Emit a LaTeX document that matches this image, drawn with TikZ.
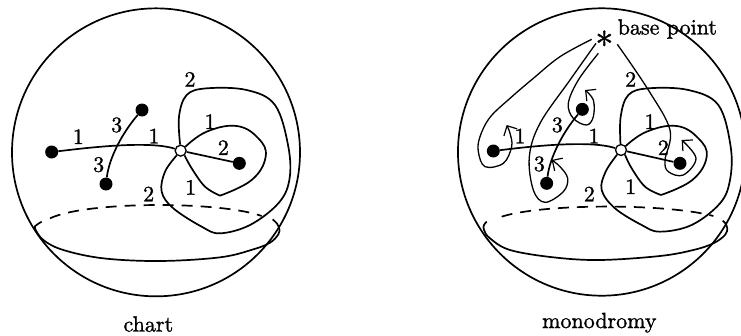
\documentclass[tikz,border=0pt]{standalone}
\usepackage{fontspec}
\newfontfamily\labfont[FakeBold=1.2]{lmroman10-regular.otf}
\usetikzlibrary{arrows.meta}
\tikzset{
  line/.style={line width=1.7pt,line join=round},
  thin line/.style={line width=1.3pt,line join=round},
  loop/.style={thin line,-{Straight Barb[length=7.5pt,width=15pt,line width=1.2pt]}},
  dot/.style={circle,fill=black,minimum size=13pt,inner sep=0pt},
  open/.style={circle,draw=black,fill=white,line width=1.3pt,minimum size=11pt,inner sep=0pt},
  lab/.style={font=\labfont\fontsize{22}{24}\selectfont,inner sep=0pt},
  zoom/.style={x=0.33333pt,y=-0.33333pt}
}
\begin{document}
\begin{tikzpicture}[x=1pt,y=-1pt]
\useasboundingbox (0,0) rectangle (741,335);
% left
\begin{scope}[shift={(20pt,0pt)},zoom]
\draw[line] (408,457) circle [radius=144pt];
\node[dot] (A) at (95,456) {};
\node[dot] (B) at (366,330) {};
\node[dot] (C) at (258,552) {};
\node[dot] (D) at (658,490) {};
\node[open] (O) at (482,452) {};
\coordinate (DL) at (90,655);
\coordinate (DR) at (725,648);
\draw[line] (A) .. controls (190,445) and (385,420) .. (O);
\draw[line] (B) .. controls (310,395) and (268,470) .. (C);
\draw[line] (O) -- (D);
\draw[line] plot[smooth,tension=.7] coordinates {(O.40) (560,395) (650,378) (715,415) (737,470) (695,540) (600,587)};
\draw[line] plot[smooth,tension=.6] coordinates {(600,587) (555,560) (515,505) (O.-50)};
\draw[line] plot[smooth,tension=.6] coordinates {(O.95) (477,350) (500,285) (560,265) (680,270) (765,315) (805,440) (808,540) (775,610) (690,675) (600,700) (545,680) (460,625) (425,575) (435,515) (O.-130)};
\draw[line,dash pattern=on 11pt off 8pt] (DL) .. controls (200,603) and (600,603) .. (DR);
\draw[line] plot[smooth,tension=.6] coordinates {(65,665) (50,675) (45,685) (70,720) (130,750) (250,775) (420,783) (600,772) (700,748) (750,728) (775,703) (778,685) (772,672) (758,658)};
\node[lab] (l1) at (175,410) {1};
\node[lab] (l2) at (290,375) {3};
\node[lab] (l3) at (402,408) {1};
\node[lab] (l4) at (236,494) {3};
\node[lab] (l5) at (510,238) {2};
\node[lab] (l6) at (570,365) {1};
\node[lab] (l7) at (610,443) {2};
\node[lab] (l8) at (512,562) {1};
\node[lab] (l9) at (386,582) {2};
\node[lab] (cap) at (385,972) {chart};
\end{scope}
% right
\begin{scope}[shift={(460pt,0pt)},zoom]
\draw[line] (425,456) circle [radius=143.7pt];
\node[dot] (A2) at (100,453) {};
\node[dot] (B2) at (367,328) {};
\node[dot] (C2) at (260,550) {};
\node[dot] (D2) at (660,490) {};
\node[open] (O2) at (483,450) {};
\node[lab,font=\labfont\fontsize{36}{36}\selectfont] (S) at (433,132) {*};
\coordinate (DL2) at (125,650);
\coordinate (DR2) at (760,648);
\draw[line] (A2) .. controls (190,442) and (385,418) .. (O2);
\draw[line] (B2) .. controls (310,395) and (270,470) .. (C2);
\draw[line] (O2) -- (D2);
\draw[line] plot[smooth,tension=.7] coordinates {(O2.40) (560,395) (650,378) (715,415) (740,470) (697,540) (603,585)};
\draw[line] plot[smooth,tension=.6] coordinates {(603,585) (555,560) (515,505) (O2.-50)};
\draw[line] plot[smooth,tension=.6] coordinates {(O2.95) (482,350) (505,285) (565,265) (685,270) (775,315) (812,440) (810,540) (780,610) (695,675) (600,695) (545,675) (465,625) (425,570) (437,515) (O2.-130)};
\draw[line,dash pattern=on 11pt off 8pt] (DL2) .. controls (250,610) and (620,610) .. (DR2);
\draw[line] plot[smooth,tension=.6] coordinates {(80,665) (72,675) (72,690) (90,715) (150,750) (280,772) (420,780) (600,768) (700,750) (760,730) (795,705) (802,685) (798,672) (788,662)};
\draw[loop] plot[smooth,tension=.6] coordinates {(395,118) (300,170) (220,235) (150,295) (90,352) (60,410) (55,455) (75,500) (130,490) (155,440) (150,400) (140,375)};
\draw[loop] plot[smooth,tension=.6] coordinates {(408,130) (330,240) (240,370) (208,470) (220,570) (255,607) (310,575) (323,535) (300,500) (275,480)};
\draw[loop] plot[smooth,tension=.6] coordinates {(415,160) (355,240) (325,310) (340,355) (380,375) (400,350) (400,300) (375,270)};
\draw[loop] plot[smooth,tension=.6] coordinates {(472,133) (565,270) (630,390) (615,480) (625,515) (670,525) (708,475) (665,420)};
\node[lab] (m1) at (180,408) {1};
\node[lab] (m2) at (292,375) {3};
\node[lab] (m3) at (402,408) {1};
\node[lab] (m4) at (238,492) {3};
\node[lab] (m5) at (512,238) {2};
\node[lab] (m6) at (570,365) {1};
\node[lab] (m7) at (610,443) {2};
\node[lab] (m8) at (512,560) {1};
\node[lab] (m9) at (388,582) {2};
\node[lab] (bp) at (622,87) {base point};
\node[lab] (cap2) at (418,968) {monodromy};
\end{scope}
\end{tikzpicture}
\end{document}
